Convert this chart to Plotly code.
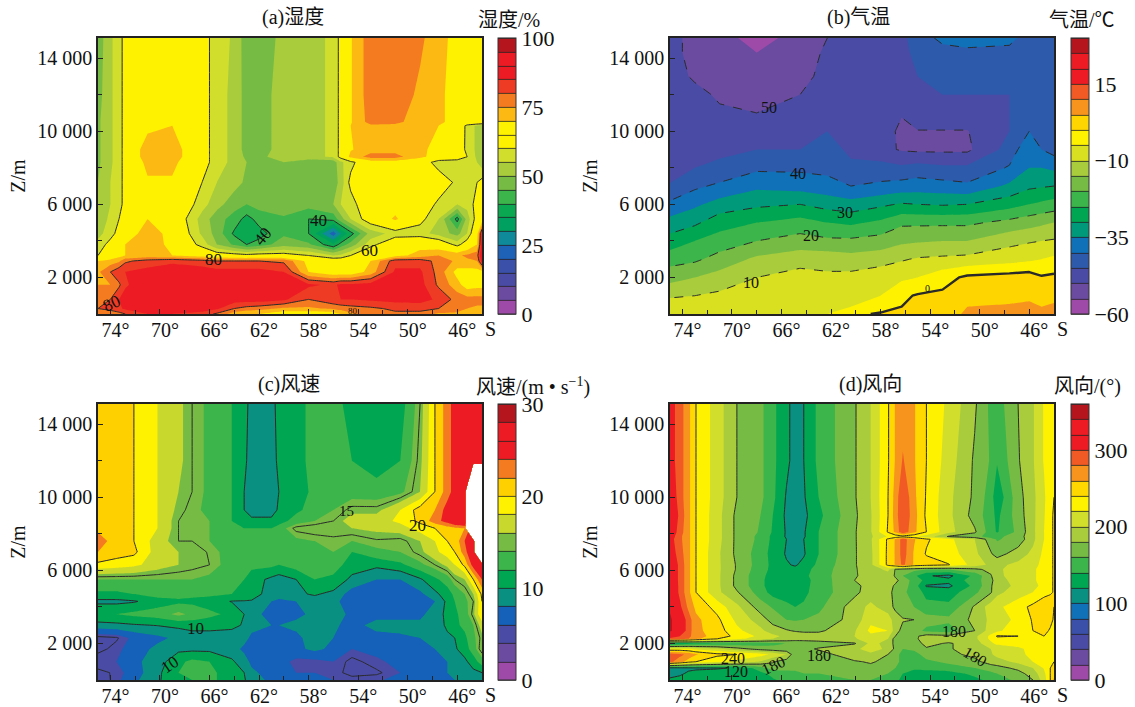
import plotly.graph_objects as go

nan = None
W, H = 1135, 707

LAT_TICKS = [74, 70, 66, 62, 58, 54, 50, 46]
LAT_TEXT = ["\u00a0\u00a074°", "\u00a0\u00a070°", "\u00a0\u00a066°", "\u00a0\u00a062°", "\u00a0\u00a058°", "\u00a0\u00a054°", "\u00a0\u00a050°", "\u00a0\u00a046°"]
Z_TICKS = [2000, 6000, 10000, 14000]
Z_TEXT = ["2 000", "6 000", "10 000", "14 000"]

# ---------- (a) humidity, %
X_A = [75,74,73.3,72.8,71,69,66.6,65.4,64,63,62,60,58,56,55.4,54.6,53,51,49,47.5,46,45.2,44.4,44]
Y_A = [15100,12000,10500,10300,9000,8600,8300,7200,6000,5200,4400,3800,3200,2900,2300,1600,800,300,0]
Z_A = [
 [47,54,58,62,68,68,62,58,54,47,46,52,53,56,62,69.5,78,78,76,72,68,68,68,68],
 [48,54,58,62,68,68,62,58,53,48,48,52,53,56,62,69.5,78,78,74,71,68,68,68,68],
 [49,54,58,62,68,68,62,58,53,48,48,52,53,56,62,69.5,77,76,73,71,68,67,67,67],
 [49,54,58,62,68,70,62,58,53,48,48,52,53,56,62,70,74,74,72,70,67,58,54,52],
 [49,54,58,62,74,74,62,58,53,48,48,52,53,56,62,69.5,73,73,71,68.5,66,58,54,52],
 [49,54,58,62,74,74,62,58,53,49,49,52,53,56,62,72,77,77,71,68,66,60,54,52],
 [49,54,58,62,72,72,62,58,53,50,50,50,47,47,54,58,67,67,66,56,55,57,55,52],
 [50,55,58,62,69,69,60,55,52,49,49,47,46,47,52,62,67,67,66,66,58,55,60,62],
 [50,55,58,62,68,68,57,52,47,45,47,49,47,50,55,57,67,67,67,58,55,57,62,62],
 [52,56,60,64,70,66,53,47,43,38,42,44,40,42,48,55,64,71,62,55,38,52,63,66],
 [53,58,62,66,73,68,54,48,39,36,38,44,40,22,30,38,52,57,57,53,48,55,68,86],
 [57,62,66,70,74,68,58,50,44,40,42,48,46,36,42,47,58,66,68,66,58,64,70,88],
 [60,65,68,70,72,70,67,64,63,62,63,63,60,55,56,60,67,68,72,75,74,76,78,90],
 [70,72,74,79,82,84,82,80,80,80,80,79,68,65,65,66,70,83,83,78,74,74,75,88],
 [74,80,84,85,87,88,88,87,87,87,87,85,70,66,66,66,72,86,86,78,68,68,68,68],
 [75,75,79,84,90,90,90,90,90,90,90,88,86,84,86,86,87,88,87,79,72,67,68,68],
 [76,80,85,88,90,90,90,90,88,88,88,86,80,84,85,85,86,87,87,84,78,77,77,77],
 [80,82,84,86,88,88,88,86,80,78,77,74,74,76,77,78,79,81,82,80,77,75,74,74],
 [78,76,78,80,85,85,83,79,72,70,70,66,66,67,70,74,79,79,78,74,74,72,72,72],
]

# ---------- (b) air temperature, °C
X_B = [75,73,71,68,64.5,62.3,60.4,58,56.3,55,53,51,47.6,46,45,44]
Y_B = [15100,14300,13000,12000,11000,10000,9000,8000,7000,6000,5000,4000,3000,2000,1000,400,0]
Z_B = [
 [-48,-52,-53,-57,-53,-50,-47,-46,-46,-43,-38.5,-38,-38,-43,-44,-44],
 [-48,-52,-53,-55,-53,-49,-47,-46,-46,-44,-42,-41,-42,-43,-44,-44],
 [-47,-51,-52,-53,-52,-48,-47,-46,-46,-45,-44,-43,-44,-44,-44,-44],
 [-47,-48,-51,-52,-50,-47,-47,-46,-46,-46,-45,-45,-45,-44,-44,-44],
 [-47,-47,-49,-50,-48,-46,-47,-46,-49.5,-47,-47,-47,-45,-43,-43,-44],
 [-47,-47,-47,-47,-46,-45,-47,-46.5,-51.5,-50.2,-50.2,-50.2,-45,-40,-42,-44],
 [-47,-46,-46,-45,-45,-43,-46,-48.5,-50.5,-51,-51,-51,-43,-36,-40,-42],
 [-50,-45,-44,-41,-41,-41.5,-44,-43,-44,-43,-44,-44,-39.5,-35,-35,-36],
 [-44,-41,-39,-36,-37,-38,-40,-39,-38,-37.5,-38,-39,-34,-31,-30.5,-30],
 [-39,-36,-33,-31,-30,-32,-33,-31,-29.5,-30,-30.5,-30,-27,-25,-24,-23],
 [-33,-31,-27,-25,-23,-25,-26,-24,-21,-21,-21,-21,-18.5,-17,-16,-15],
 [-28,-25,-23,-20,-18,-19,-19,-18,-16,-15.5,-15,-15,-11.5,-10.5,-10,-9.5],
 [-22,-21,-18,-14,-12,-12,-13,-12,-10.5,-9.5,-9,-8.5,-7,-6,-5,-4],
 [-17,-15,-13,-10,-8,-9,-8.5,-7,-6,-5,-2,1,2,2.5,0.5,1],
 [-10.5,-10,-9,-7.5,-5,-6.5,-6,-5,-1,0.5,1,3,3.5,4,3,3],
 [-8,-8,-7,-6,-6,-5.5,-5,-2,0,0.8,2,5,5.5,6,5,6],
 [-6,-6,-6,-6,-6,-5,-1,0.5,2,1.5,2,6,6,6,7,10],
]

# ---------- (c) wind speed, m/s
X_C = [75,73.5,72.1,70.2,68.5,67.4,66,64.2,63.2,62.6,61,60.4,59,57.5,56,54.5,52.5,50.6,49,47.8,46.8,46.2,45.4,44.7,44]
Y_C = [15100,12000,10300,9300,8700,8300,7600,7000,6300,5500,4700,4300,3600,3000,2300,1700,1000,400,0]
Z_C = [
 [21,21,20,18,16.5,15,13.5,12,11,9,9,11,11.5,12.5,13,11,11,11,15,20,23,25,27,27,27],
 [21,21,20,18,16.5,15,13.5,12,10.5,9,9,10.5,11.5,12.5,13,12,11,12,15.5,20,23,25,27,27,27],
 [21,21,20,18,16,15,13.5,12,10,8.5,8.5,10,11,12.5,13,13,12.8,13.5,16,20,23,25,27,nan,nan],
 [21,21,20,18,15.5,14.5,13.5,12,10,8.5,8.5,10.5,11.5,13,14,15.5,15.5,18,21,22,25,27,28,nan,nan],
 [21,21,20,18,15,15,14,12,10.5,10.8,10.8,11,13,14,15,17,17,18.5,20.5,23,25,27,28,nan,nan],
 [21.5,21,20,18,15,15,14,12.5,12,12,12,13,15.5,16,16,16,16.5,17,19,20,21,21.5,22,nan,nan],
 [23,21,20,17,15,15,14,13,13,13,13,13.5,13.5,14,14.5,14,14.8,14.5,16,18,20,20.5,24,27,nan],
 [22,21,20.5,17,16,16,14.8,13,12.5,12.5,12.5,12.5,13,13.5,14,12,13.5,14,15.5,17.5,19,20,23,27,nan],
 [19.5,19,18.5,17,16,15.5,15,13,12.5,12.5,12.5,12,13,13,13,11,10.5,11.5,13.5,15,16.5,18,20.5,25,27],
 [14,14,14,14,14,14,13.5,12.5,12,11,9.5,9,10,12,11.5,9.5,8,8,9.7,11.5,13,15,16,20,24],
 [11.5,11.5,12,13,13,12.5,12.5,12,11,10.5,9.5,9,9.7,10.2,9.5,7,7,7,7.5,9.5,11,12.5,14,16,20.5],
 [9.5,9.5,9.8,11,11.5,11.5,11,9.9,9.9,9.9,8,7.5,8,9.2,8.5,7,7,7,7,8,10.5,12,13.5,15,20],
 [12,12,12.5,13,14.5,13.5,12.5,11.5,10,8.5,7.5,7,7.5,8.5,9,7.5,7,7,7.5,9,10.5,11.5,13,15.5,20],
 [9.2,9.5,9.8,10.1,10.5,10.8,10.8,10.5,9.8,8.8,8,8,8.5,8.8,8.5,7,9,9,8.5,8.5,10.5,11.5,12.5,14,17],
 [4.5,4.8,6.5,7.5,8.5,9,9,9,8.8,7.5,7,7,7.5,9,8,7,7,7.5,8,9,9.5,10,11.5,13.5,15.5],
 [4.5,5.5,7,8.5,9.5,9.5,9.5,9,7.5,7,7,7.5,7.5,8.5,7.5,6,6.5,7,7.5,8,9,9.7,11,13,16],
 [6,6,7.5,9,11.5,12.5,12,10.3,9,7.5,7,6.8,5.5,5.5,6,4.5,5.7,6.5,7,7.5,8,8.7,9.5,11,13],
 [4.5,5.3,7,9.5,12,13,12.5,11,10,8.5,7,6.5,6,6,5.5,4.5,4.7,6,7,7.5,8,8.5,9,9.5,10],
 [4,5.5,7.5,9.8,11,12,12.5,11,10.2,9,7.5,7,6.5,6.5,6,5.5,5.8,6.5,7,7.5,7.5,8,8.5,9,10],
]

# ---------- (d) wind direction, degrees
X_D = [75,74.2,73.5,72.9,71.2,69.6,67.7,66.7,65.6,64.9,64.2,63,60.1,58.8,57.4,56.8,56.2,55.3,54.3,52.5,50.4,49.1,48.6,46.9,45.7,44.8,44.3,44]
Y_D = [15100,12000,10000,9000,8100,7850,7700,6900,6300,6050,5700,5450,5150,4800,4000,3300,2700,2400,2250,2000,1700,1400,1000,650,350,0]
Z_D = [
 [310,290,265,240,210,180,165,145,125,112,120,145,178,200,238,262,270,262,240,215,183,155,150,180,198,222,232,236],
 [310,290,265,240,210,180,165,145,125,112,120,145,178,200,238,262,282,262,240,210,177,158,142,178,198,222,232,236],
 [320,290,265,240,210,180,165,145,118,106,118,140,178,200,240,268,300,265,238,205,176,150,125,172,195,216,236,240],
 [325,295,265,240,208,175,160,140,116,104,115,135,176,198,240,270,300,268,236,205,172,148,135,170,195,218,238,241],
 [320,290,265,240,208,175,158,138,118,106,118,140,178,198,242,265,295,265,240,206,183,150,138,165,195,220,238,241],
 [315,285,265,240,208,175,155,135,118,108,118,140,178,197,222,228,232,225,210,178,168,150,155,170,195,220,238,241],
 [310,285,265,240,208,175,155,135,120,110,120,140,178,197,244,262,290,262,243,225,200,170,158,168,195,220,238,241],
 [315,290,265,240,205,175,150,133,118,110,118,140,178,195,245,262,290,258,238,230,205,182,172,190,205,225,238,241],
 [320,295,265,240,205,178,150,135,122,118,125,145,178,195,245,262,285,258,250,241,212,195,195,205,215,225,238,241],
 [320,295,265,240,205,178,148,135,128,125,132,148,178,190,205,178,170,165,160,160,175,186,196,210,218,225,238,241],
 [320,295,265,240,205,175,145,133,130,128,135,150,178,188,190,178,160,145,122,115,145,178,195,210,218,225,238,241],
 [320,295,265,240,205,175,145,130,128,128,133,148,180,188,190,183,175,150,135,125,150,175,190,210,218,225,238,241],
 [325,295,265,240,205,175,145,130,127,127,133,150,176,186,185,178,170,150,118,116,145,178,190,205,215,225,238,241],
 [325,295,265,240,205,182,150,132,130,130,135,150,175,190,185,175,165,150,135,130,155,178,195,210,220,235,238,241],
 [335,305,275,255,232,205,170,158,145,140,143,155,190,205,190,175,165,160,145,145,183,210,215,232,245,250,250,240],
 [345,320,290,265,245,215,190,172,160,158,160,165,188,215,210,190,182,180,170,165,185,205,210,225,242,245,245,238],
 [345,320,290,265,250,225,205,190,182,178,176,176,198,225,220,190,172,170,155,150,180,210,215,235,240,245,238,232],
 [310,300,285,270,250,235,215,205,195,192,190,190,200,215,205,180,165,175,188,185,195,225,242,240,235,240,240,232],
 [295,290,280,265,240,225,210,200,195,192,190,190,198,210,200,170,165,175,190,190,195,225,235,235,238,240,240,232],
 [120,125,130,135,140,145,150,155,160,160,165,170,178,205,195,172,165,172,185,178,190,215,225,230,235,240,240,232],
 [225,225,222,215,205,188,172,168,165,165,175,182,195,210,195,175,160,165,178,178,190,200,205,215,228,240,240,238],
 [290,285,275,262,245,240,228,215,200,165,168,172,192,195,180,165,155,150,170,175,185,198,205,215,225,240,240,238],
 [285,270,250,240,225,215,198,182,170,165,165,168,178,182,175,165,155,150,155,165,175,188,192,205,220,235,240,240],
 [112,112,114,116,118,122,150,170,168,165,165,165,170,175,170,160,150,142,145,150,160,170,172,185,200,222,240,248],
 [100,115,125,128,130,130,135,145,150,155,160,160,165,165,160,150,140,135,132,132,145,155,160,172,190,215,240,250],
 [130,130,130,130,130,130,130,138,145,150,155,158,160,160,155,145,135,128,125,125,135,145,150,165,180,210,240,265],
]

# ---------- band colours, low to high
BANDS_A = ["#9E4AA8","#6A4BA0","#4A4BA5","#3B50A8","#1E62B8","#0F8A9A","#00A060","#0AA850","#3CB54A","#76BC44",
           "#A8CC3C","#D2DE2C","#FFF200","#FFF200","#FDB913","#F47B20","#EE3B24","#ED1C24","#ED1C24","#B5161E"]
BANDS_B = ["#9E4AA8","#6A4BA0","#4A4BA5","#2E5AAC","#1070B8","#009A7A","#00A651","#3CB54A","#76BC44","#A8CC3C",
           "#D8E020","#FFF200","#FFD500","#F7941E","#F15A24","#ED1C24","#ED1C24","#B5161E"]
BANDS_C = ["#9E4AA8","#6A4BA0","#4A4BA5","#1560B8","#0A9080","#00A651","#3CB54A","#76BC44","#C8D82C","#FFF200",
           "#FFD000","#F47B20","#ED1C24","#ED1C24","#B5161E"]
BANDS_D = ["#9E4AA8","#6A4BA0","#4A4BA5","#3B50A8","#1070B8","#0A9080","#00A651","#3CB54A","#76BC44","#A8CC3C",
           "#D2DE2C","#FFF200","#FFD800","#F7941E","#F15A24","#ED1C24","#ED1C24","#B5161E"]

LINE = "#2a2a2a"
FONT = "Liberation Serif, Noto Sans CJK SC, serif"

def midpoint_scale(bands):
    n = len(bands)
    pts = [[0, bands[0]]]
    for k, c in enumerate(bands):
        pts.append([(k + 1) / (n + 1), c])
    pts.append([1, bands[-1]])
    return pts

def hard_scale(bands):
    n = len(bands)
    pts = []
    for k, c in enumerate(bands):
        pts.append([k / n, c])
        pts.append([(k + 1) / n, c])
    return pts

PANELS = [
 dict(x=X_A, y=Y_A, z=Z_A, lo=0, hi=100, step=5, bands=BANDS_A, box=(98, 482, 38, 314), cb=498,
      ticks=[0,25,50,75,100], ticktext=["0","25","50","75","100"],
      lines=[dict(start=40, end=80, size=20, dash="solid", width=1)],
      title="(a)湿度", cbt="湿度/%", tx=293, cbx=509,
      labels=[("40",61.7,4260,-50,17),("40",57.2,5130,0,17),("60",53.1,3500,0,17),("80",65.7,3000,0,17),("80",73.9,580,-25,17),("80",54.4,160,0,9)]),
 dict(x=X_B, y=Y_B, z=Z_B, lo=-60, hi=30, step=5, bands=BANDS_B, box=(670, 1054, 38, 314), cb=1071,
      ticks=[-60,-35,-10,15], ticktext=["−60","−35","−10","15"],
      lines=[dict(start=-50, end=-10, size=10, dash="dash", width=1), dict(start=0, end=0, size=10, dash="solid", width=2.4)],
      title="(b)气温", cbt="气温/℃", tx=858, cbx=1082,
      labels=[("50",67,11300,0,16),("40",64.7,7700,0,16),("30",60.9,5550,0,16),("20",63.6,4300,0,16),("10",68.5,1750,0,16),("0",54.2,1400,0,10)]),
 dict(x=X_C, y=Y_C, z=Z_C, lo=0, hi=30, step=2, bands=BANDS_C, box=(98, 482, 404, 680), cb=498,
      ticks=[0,10,20,30], ticktext=["0","10","20","30"],
      lines=[dict(start=5, end=20, size=5, dash="solid", width=1)],
      title="(c)风速", cbt="风速/(m • s<sup>−1</sup>)", tx=289, cbx=533,
      labels=[("10",67.1,2800,0,17),("10",69.2,870,-35,17),("15",54.9,9270,0,15),("20",49.2,8450,0,17)]),
 dict(x=X_D, y=Y_D, z=Z_D, lo=0, hi=360, step=20, bands=BANDS_D, box=(670, 1054, 404, 680), cb=1071,
      ticks=[0,100,200,300], ticktext=["0","100","200","300"],
      lines=[dict(start=120, end=240, size=60, dash="solid", width=1)],
      title="(d)风向", cbt="风向/(°)", tx=870, cbx=1087,
      labels=[("180",52.1,2640,0,16),("180",63,1330,0,16),("180",50.4,1270,30,16),("180",66.7,820,-25,16),("240",69.9,1150,0,16),("120",69.7,450,0,16)]),
]

fig = go.Figure()
annotations = []
layout = {}
for i, p in enumerate(PANELS):
    for r in p["z"]:
        assert len(r) == len(p["x"]), (i, len(r), len(p["x"]))
    assert len(p["z"]) == len(p["y"]), (i, "rows")
    n = "" if i == 0 else str(i + 1)
    xa, ya = "x" + n, "y" + n
    l, r_, t, b = p["box"]
    levels = dict(start=p["lo"], end=p["hi"], size=p["step"])
    # carrier of the colour bar (bands plus lines); fully covered by the fill trace above it
    fig.add_trace(go.Contour(
        x=p["x"], y=p["y"], z=p["z"], xaxis=xa, yaxis=ya, autocontour=False,
        contours=dict(levels, coloring="heatmap", showlines=True), zmin=p["lo"], zmax=p["hi"],
        colorscale=hard_scale(p["bands"]), connectgaps=False,
        line=dict(color="#222222", width=0.8, smoothing=0), hoverinfo="skip",
        colorbar=dict(x=p["cb"]/W, xanchor="left", xpad=0, ypad=0, thickness=18, thicknessmode="pixels",
                      y=1-t/H, yanchor="top", len=(b-t)/H, lenmode="fraction",
                      tickmode="array", tickvals=p["ticks"], ticktext=p["ticktext"], ticks="",
                      tickfont=dict(family=FONT, size=22, color="#111111"),
                      outlinecolor="#333333", outlinewidth=1, borderwidth=0)))
    fig.add_trace(go.Contour(
        x=p["x"], y=p["y"], z=p["z"], xaxis=xa, yaxis=ya, autocontour=False,
        contours=dict(levels, coloring="fill", showlines=False), colorscale=midpoint_scale(p["bands"]),
        connectgaps=False, showscale=False, line=dict(width=0, smoothing=0)))
    for ln in p["lines"]:
        fig.add_trace(go.Contour(
            x=p["x"], y=p["y"], z=p["z"], xaxis=xa, yaxis=ya, autocontour=False, showscale=False,
            contours=dict(start=ln["start"], end=ln["end"], size=ln["size"], coloring="none"),
            connectgaps=False, line=dict(color=LINE, width=ln["width"], dash=ln["dash"], smoothing=0),
            hoverinfo="skip"))
    layout["xaxis" + n] = dict(
        domain=[l/W, r_/W], range=[75, 44], anchor=ya, tickmode="array", tickvals=LAT_TICKS, ticktext=LAT_TEXT,
        ticks="inside", ticklen=5, tickcolor="#222222", showgrid=False, zeroline=False, mirror=True,
        showline=True, linecolor="#222222", linewidth=1.5, ticklabelstandoff=-3,
        tickfont=dict(family=FONT, size=20, color="#111111"),
        minor=dict(tickvals=[72, 68, 64, 60, 56, 52, 48], ticks="inside", ticklen=4, tickcolor="#222222"))
    layout["yaxis" + n] = dict(
        domain=[1-b/H, 1-t/H], range=[0, 15100], anchor=xa, tickmode="array", tickvals=Z_TICKS, ticktext=Z_TEXT,
        ticks="inside", ticklen=5, tickcolor="#222222", showgrid=False, zeroline=False, mirror=True,
        showline=True, linecolor="#222222", linewidth=1.5,
        tickfont=dict(family=FONT, size=20, color="#111111"),
        title=dict(text="Z/m", font=dict(family=FONT, size=20, color="#111111"), standoff=6),
        minor=dict(tickvals=[4000, 8000, 12000], ticks="inside", ticklen=4, tickcolor="#222222"))
    annotations.append(dict(xref="paper", yref="paper", x=p["tx"]/W, y=1-(t-20)/H, xanchor="center", yanchor="middle",
                            text=p["title"], showarrow=False, font=dict(family=FONT, size=20, color="#111111")))
    annotations.append(dict(xref="paper", yref="paper", x=p["cbx"]/W, y=1-(t-18)/H, xanchor="center", yanchor="middle",
                            text=p["cbt"], showarrow=False, font=dict(family=FONT, size=20, color="#111111")))
    annotations.append(dict(xref="paper", yref="paper", x=(r_+8)/W, y=1-(b+15)/H, xanchor="center", yanchor="middle",
                            text="S", showarrow=False, font=dict(family=FONT, size=20, color="#111111")))
    for txt, lx, ly, ang, sz in p["labels"]:
        annotations.append(dict(xref=xa, yref=ya, x=lx, y=ly, text=txt, showarrow=False, textangle=ang,
                                font=dict(family=FONT, size=sz, color="#111111")))

fig.update_layout(width=W, height=H, margin=dict(l=0, r=0, t=0, b=0, autoexpand=False), autosize=False,
                  paper_bgcolor="white", plot_bgcolor="white", showlegend=False,
                  annotations=annotations, **layout)
fig.write_html("out.html", config=dict(displayModeBar=False),
               post_script="document.body.style.margin='0';document.documentElement.style.overflow='hidden';")
